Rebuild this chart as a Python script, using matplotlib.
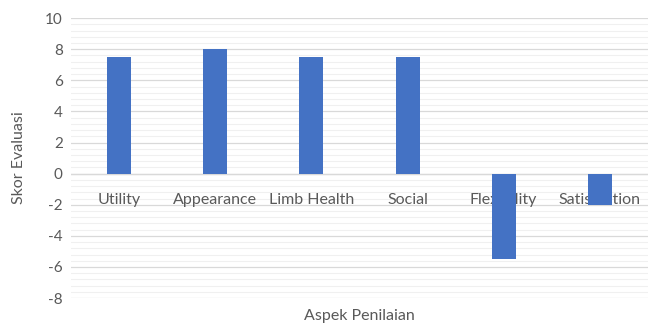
import numpy as np
import matplotlib.pyplot as plt
from matplotlib.ticker import MultipleLocator

categories = ['Utility', 'Appearance', 'Limb Health', 'Social', 'Flexibility', 'Satisfaction']
scores = [7.5, 8.0, 7.5, 7.5, -5.5, -2.0]

plt.rcParams['font.family'] = ['Lato', 'DejaVu Sans']
plt.rcParams['axes.unicode_minus'] = False
txt = '#595959'

fig = plt.figure(figsize=(6.53, 3.24), dpi=100)
ax = fig.add_axes([0.109, 0.080, 0.883, 0.864])

x = np.arange(len(categories))
ax.bar(x, scores, width=0.25, color='#4472c4', zorder=3)

ax.set_xlim(-0.5, len(categories) - 0.5)
ax.set_ylim(-8, 10)
ax.yaxis.set_major_locator(MultipleLocator(2))
ax.yaxis.set_minor_locator(MultipleLocator(0.4))
ax.grid(axis='y', which='major', color='#d9d9d9', lw=0.9, zorder=0)
ax.grid(axis='y', which='minor', color='#f0f0f0', lw=0.8, zorder=0)
ax.axhline(0, color='#d9d9d9', lw=0.9, zorder=1)

for s in ax.spines.values():
    s.set_visible(False)
ax.tick_params(axis='both', which='both', length=0)
ax.tick_params(axis='y', labelsize=11, colors=txt, pad=6)
ax.set_xticks([])

# category labels sit just under the zero line
for xi, c in zip(x, categories):
    ax.text(xi, -1.7, c, ha='center', va='center', fontsize=11.5, color=txt, zorder=2)

ax.set_ylabel('Skor Evaluasi', fontsize=11.5, color=txt, labelpad=14)
ax.set_xlabel('Aspek Penilaian', fontsize=11.5, color=txt, labelpad=8)

fig.savefig('out.png', dpi=100)
